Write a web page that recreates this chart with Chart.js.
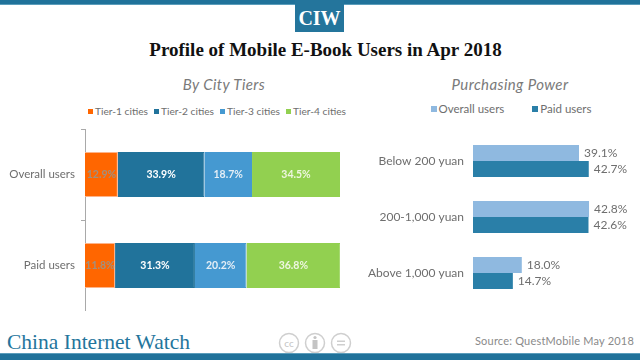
<!DOCTYPE html>
<html>
<head>
<meta charset="utf-8">
<script src="https://cdn.jsdelivr.net/npm/chart.js@4"></script>
<style>
html, body { margin: 0; padding: 0; background: #fff; }
#page { position: relative; width: 640px; height: 360px; overflow: hidden; font-family: Lato, sans-serif; color: #6e6e6e; }
#page > * { position: absolute; }
.center { text-align: center; white-space: nowrap; }
.sub { font-style: italic; font-size: 15px; top: 75px; line-height: 18px; letter-spacing: .4px; color: #7a7a7a; }
.legend { display: flex; justify-content: center; height: 14px; line-height: 14px; white-space: nowrap; }
.legend span { display: flex; align-items: center; }
.legend i { display: inline-block; margin-right: 2px; }
</style>
</head>
<body>
<div id="page">
  <div style="left:0;top:0;width:640px;height:4px;background:#20729a;border-bottom:1px solid #5b9dbb"></div>
  <div class="center" style="left:295px;top:0;width:49px;height:32px;background:#24759c;color:#fff;font:bold 20px/36px 'Liberation Serif',serif">CIW</div>
  <div class="center" style="left:0;top:37px;width:651px;font:bold 19px/26px 'Liberation Serif',serif;color:#111">Profile of Mobile E-Book Users in Apr 2018</div>

  <div class="center sub" style="left:124px;width:200px">By City Tiers</div>
  <div class="center sub" style="left:410px;width:200px">Purchasing Power</div>
  <div id="legendLeft" class="legend" style="left:67px;width:300px;top:104px;font-size:10.2px"></div>
  <div id="legendRight" class="legend" style="left:410px;width:202px;top:102px;font-size:11.5px"></div>

  <div style="left:0;top:129px;width:345px;height:182px"><canvas id="tierChart"></canvas></div>
  <div style="left:365px;top:133px;width:275px;height:168px"><canvas id="powerChart"></canvas></div>

  <div style="left:7px;top:329px;font:21.5px/26px 'Liberation Serif',serif;color:#24759c;white-space:nowrap">China Internet Watch</div>
  <svg style="left:278px;top:331px" width="76" height="24" fill="none" stroke="#cfcfcf" stroke-width="1.5">
    <circle cx="11" cy="12" r="9.5"/>
    <circle cx="37" cy="12" r="9.5"/>
    <circle cx="63" cy="12" r="9.5"/>
    <text x="11" y="15.5" text-anchor="middle" font-size="10" font-family="Lato" fill="#c4c4c4" stroke="none">cc</text>
    <circle cx="37" cy="6.5" r="1.6" fill="#c4c4c4" stroke="none"/>
    <rect x="34.5" y="9" width="5" height="9" fill="#c4c4c4" stroke="none"/>
    <path d="M59 10.2h8M59 13.8h8"/>
  </svg>
  <div style="right:6px;top:333px;font-size:11px;line-height:16px;color:#8a8a8a;white-space:nowrap;letter-spacing:.2px">Source: QuestMobile May 2018</div>

  <div style="left:0;top:353px;width:640px;height:7px;background:#20729a;border-top:1px solid #5b9dbb;box-sizing:border-box"></div>
</div>

<script>
const tierCategories = ['Overall users', 'Paid users'];
const tierNames = ['Tier-1 cities', 'Tier-2 cities', 'Tier-3 cities', 'Tier-4 cities'];
const tier1 = [12.9, 11.8];
const tier2 = [33.9, 31.3];
const tier3 = [18.7, 20.2];
const tier4 = [34.5, 36.8];
const tierColors = ['#ff6600', '#21739b', '#4599d1', '#92d050'];
const tierBorders = ['#fdb48a', '#21739b', '#4599d1', '#92d050'];
const tierLabelColors = ['#a0907f', '#ffffff', '#e4eef6', '#eef6e0'];

const powerCategories = ['Below 200 yuan', '200-1,000 yuan', 'Above 1,000 yuan'];
const powerNames = ['Overall users', 'Paid users'];
const powerOverall = [39.1, 42.8, 18.0];
const powerPaid = [42.7, 42.6, 14.7];
const powerColors = ['#8fb9e0', '#2a7fa8'];

const fontName = 'Lato';
const textColor = '#6e6e6e';

function fillLegend(id, names, colors, boxSize, gap) {
    const box = document.getElementById(id);
    box.style.gap = gap + 'px';
    names.forEach((name, i) => {
        box.innerHTML += `<span><i style="width:${boxSize}px;height:${boxSize}px;background:${colors[i]}"></i>${name}</span>`;
    });
}
fillLegend('legendLeft', tierNames, tierColors, 5, 6);
fillLegend('legendRight', powerNames, powerColors, 6, 28);

// fixed label column, and no extra room above/below for the tick labels
function fitAxis(scale, width) {
    scale.width = width;
    scale.paddingTop = 0;
    scale.paddingBottom = 0;
}

// no datalabels plugin available, so draw the value text from the bar elements
const barValues = {
    id: 'barValues',
    afterDatasetsDraw(chart, args, opts) {
        const ctx = chart.ctx;
        ctx.save();
        chart.data.datasets.forEach((ds, d) => {
            chart.getDatasetMeta(d).data.forEach((bar, i) => {
                const text = ds.data[i].toFixed(1) + '%';
                ctx.font = opts.font;
                ctx.textBaseline = 'middle';
                if (opts.inside) {
                    ctx.fillStyle = opts.colors[d];
                    ctx.textAlign = 'center';
                    ctx.fillText(text, bar.x - bar.width / 2, bar.y);
                } else {
                    ctx.fillStyle = textColor;
                    ctx.textAlign = 'left';
                    ctx.fillText(text, bar.x + 5, bar.y);
                }
            });
        });
        ctx.restore();
    }
};

new Chart(document.getElementById('tierChart'), {
    type: 'bar',
    data: {
        labels: tierCategories,
        datasets: [tier1, tier2, tier3, tier4].map((values, i) => ({
            label: tierNames[i],
            data: values,
            backgroundColor: tierColors[i],
            borderColor: tierBorders[i],
            borderWidth: 1
        }))
    },
    options: {
        indexAxis: 'y',
        responsive: true,
        maintainAspectRatio: false,
        animation: false,
        datasets: { bar: { categoryPercentage: 1, barPercentage: 0.495 } },
        scales: {
            x: { display: false, stacked: true, min: 0, max: 100 },
            y: {
                stacked: true,
                afterFit(scale) { fitAxis(scale, 85); },
                border: { color: '#a9a9a9', width: 1 },
                grid: { drawOnChartArea: false, tickLength: 4, color: '#a9a9a9' },
                ticks: { padding: 6, color: textColor, font: { family: fontName, size: 11.5 } }
            }
        },
        layout: { padding: { right: 5 } },
        plugins: {
            legend: { display: false },
            tooltip: { enabled: false },
            barValues: { inside: true, colors: tierLabelColors, font: 'bold 10.5px ' + fontName }
        }
    },
    plugins: [barValues]
});

new Chart(document.getElementById('powerChart'), {
    type: 'bar',
    data: {
        labels: powerCategories,
        datasets: [powerOverall, powerPaid].map((values, i) => ({
            label: powerNames[i],
            data: values,
            backgroundColor: powerColors[i]
        }))
    },
    options: {
        indexAxis: 'y',
        responsive: true,
        maintainAspectRatio: false,
        animation: false,
        datasets: { bar: { categoryPercentage: 0.572, barPercentage: 1 } },
        scales: {
            x: { display: false, min: 0, max: 61.6 },
            y: {
                afterFit(scale) { fitAxis(scale, 108); },
                border: { display: false },
                grid: { display: false },
                ticks: { padding: 1, color: textColor, font: { family: fontName, size: 12 } }
            }
        },
        plugins: {
            legend: { display: false },
            tooltip: { enabled: false },
            barValues: { inside: false, font: '12px ' + fontName }
        }
    },
    plugins: [barValues]
});
</script>
</body>
</html>
